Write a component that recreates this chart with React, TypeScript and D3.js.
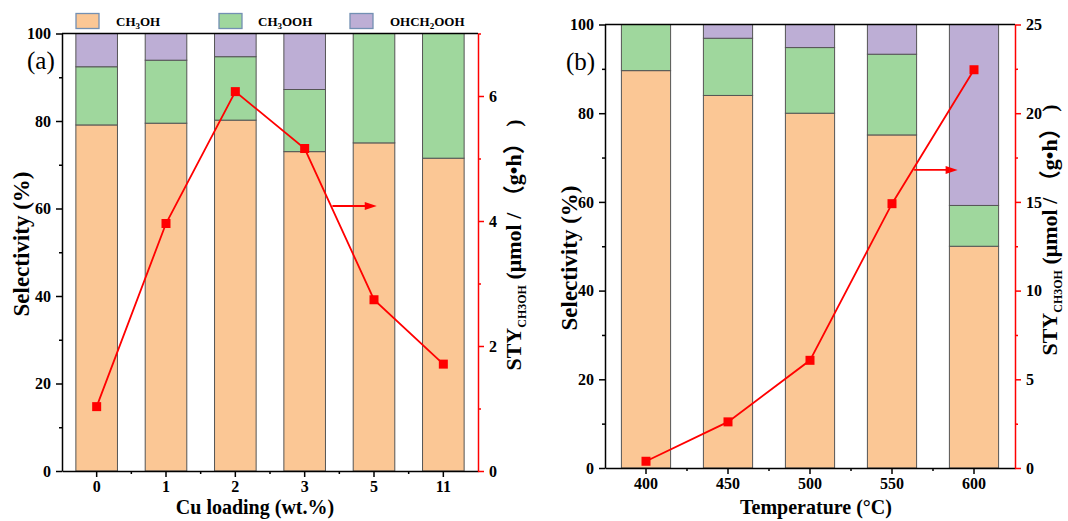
import React, { useEffect, useRef } from "react";
import * as d3 from "d3";

// series
const seriesKeys = ["CH3OH", "CH3OOH", "OHCH2OOH"];
const seriesColors = ["#fbc795", "#9fd79d", "#bdaed5"];

// (a) Cu loading
const loadingCats = ["0", "1", "2", "3", "5", "11"];
const loadingCH3OH = [79.1, 79.5, 80.2, 73.0, 75.0, 71.5];
const loadingCH3OOH = [13.3, 14.4, 14.5, 14.2, 25.0, 28.5];
const loadingOHCH2OOH = [7.6, 6.1, 5.3, 12.8, 0, 0];
const loadingSTY = [1.03, 3.96, 6.07, 5.16, 2.74, 1.71];

// (b) temperature
const tempCats = ["400", "450", "500", "550", "600"];
const tempCH3OH = [89.6, 84.0, 80.0, 75.1, 50.0];
const tempCH3OOH = [10.4, 12.9, 14.8, 18.2, 9.2];
const tempOHCH2OOH = [0, 3.1, 5.2, 6.7, 40.8];
const tempSTY = [0.38, 2.6, 6.07, 14.9, 22.45];

// ticks
const selTicks = [0, 20, 40, 60, 80, 100];
const selMinor = [10, 30, 50, 70, 90];
const styTicksA = [0, 2, 4, 6];
const styMinorA = [1, 3, 5, 7];
const styTicksB = [0, 5, 10, 15, 20, 25];
const styMinorB = [2.5, 7.5, 12.5, 17.5, 22.5];

const FONT = "'Liberation Serif', 'Times New Roman', 'Noto Sans CJK SC', serif";

const panels = [
  {
    cats: loadingCats, stacks: [loadingCH3OH, loadingCH3OOH, loadingOHCH2OOH], sty: loadingSTY,
    styMax: 7, styTicks: styTicksA, styMinor: styMinorA,
    left: 62, right: 478, top: 33.5, bottom: 471,
    label: "(a)", labelX: 27, labelY: 69,
    xTitle: "Cu loading (wt.%)", xTitleX: 255, xTitleY: 514,
    yTitleX: 29, yTitleY: 244,
    rTitleX: 521, rTitleY: 245,
    arrow: { cat: "3", from: 0.70, to: 1.34, value: 4.24 },
  },
  {
    cats: tempCats, stacks: [tempCH3OH, tempCH3OOH, tempOHCH2OOH], sty: tempSTY,
    styMax: 25, styTicks: styTicksB, styMinor: styMinorB,
    left: 605, right: 1015, top: 24.5, bottom: 468,
    label: "(b)", labelX: 566, labelY: 70,
    xTitle: "Temperature (\u00B0C)", xTitleX: 816, xTitleY: 514,
    yTitleX: 577, yTitleY: 258,
    rTitleX: 1057, rTitleY: 230,
    arrow: { cat: "550", from: 0.57, to: 1.10, value: 16.8 },
  },
];

function drawPanel(svg: any, p: any) {
  const g = svg.append("g");
  const x = d3.scaleBand().domain(p.cats).range([p.left, p.right]).paddingInner(0.4).paddingOuter(0.2);
  const y = d3.scaleLinear().domain([0, 100]).range([p.bottom, p.top]);
  const yR = d3.scaleLinear().domain([0, p.styMax]).range([p.bottom, p.top]);
  const bw = x.bandwidth();

  const rows = p.cats.map((c: string, i: number) => ({
    cat: c, CH3OH: p.stacks[0][i], CH3OOH: p.stacks[1][i], OHCH2OOH: p.stacks[2][i],
  }));
  const layers = d3.stack<any>().keys(seriesKeys)(rows);

  g.selectAll("g.layer")
    .data(layers)
    .join("g")
    .attr("fill", (d: any, i: number) => seriesColors[i])
    .selectAll("rect")
    .data((d: any) => d.filter((s: any) => s[1] - s[0] > 0))
    .join("rect")
    .attr("x", (d: any) => x(d.data.cat))
    .attr("width", bw)
    .attr("y", (d: any) => y(d[1]))
    .attr("height", (d: any) => y(d[0]) - y(d[1]))
    .attr("stroke", "#555")
    .attr("stroke-width", 1);

  const styleAxis = (sel: any, color: string) => {
    sel.selectAll("path,line").attr("stroke", color).attr("stroke-width", 1.5);
    sel.selectAll("text")
      .attr("fill", "#000")
      .style("font-family", FONT)
      .style("font-weight", "bold")
      .style("font-size", "16px");
  };
  const fmt = (d: any) => String(d);

  // left axis
  const la = g.append("g").attr("transform", `translate(${p.left},0)`)
    .call(d3.axisLeft(y).tickValues(selTicks).tickFormat(fmt).tickSize(6).tickSizeOuter(0).tickPadding(5));
  styleAxis(la, "#000");
  const lm = g.append("g").attr("transform", `translate(${p.left},0)`)
    .call(d3.axisLeft(y).tickValues(selMinor).tickSize(3).tickFormat(() => ""));
  lm.select(".domain").remove();
  styleAxis(lm, "#000");

  // top frame
  g.append("line")
    .attr("x1", p.left).attr("x2", p.right)
    .attr("y1", y(100)).attr("y2", y(100))
    .attr("stroke", "#000").attr("stroke-width", 1.5);

  // bottom axis
  const ba = g.append("g").attr("transform", `translate(0,${p.bottom})`)
    .call(d3.axisBottom(x).tickSize(6).tickSizeOuter(0).tickPadding(4));
  styleAxis(ba, "#000");
  const bounds = p.cats.slice(1).map((c: string) => (x(c) as number) - x.step() * x.paddingInner() / 2);
  g.append("g").selectAll("line").data(bounds).join("line")
    .attr("x1", (d: number) => d).attr("x2", (d: number) => d)
    .attr("y1", p.bottom).attr("y2", p.bottom + 3)
    .attr("stroke", "#000").attr("stroke-width", 1.5);

  // right axis
  const ra = g.append("g").attr("transform", `translate(${p.right},0)`)
    .call(d3.axisRight(yR).tickValues(p.styTicks).tickFormat(fmt).tickSize(6).tickSizeOuter(0).tickPadding(5));
  styleAxis(ra, "#ff0000");
  const rm = g.append("g").attr("transform", `translate(${p.right},0)`)
    .call(d3.axisRight(yR).tickValues(p.styMinor).tickSize(3).tickFormat(() => ""));
  rm.select(".domain").remove();
  styleAxis(rm, "#ff0000");

  // STY line
  const cx = (i: number) => (x(p.cats[i]) as number) + bw / 2;
  const line = d3.line<number>().x((d, i) => cx(i)).y((d) => yR(d));
  g.append("path").datum(p.sty).attr("d", line)
    .attr("fill", "none").attr("stroke", "#ff0000").attr("stroke-width", 1.8);
  g.append("g").selectAll("rect").data(p.sty).join("rect")
    .attr("x", (d: number, i: number) => cx(i) - 4.5)
    .attr("y", (d: number) => yR(d) - 4.5)
    .attr("width", 9).attr("height", 9)
    .attr("fill", "#ff0000");

  // arrow toward the right axis
  const a0 = x(p.arrow.cat) as number;
  const x1 = a0 + p.arrow.from * x.step();
  const x2 = a0 + p.arrow.to * x.step();
  const ay = yR(p.arrow.value);
  g.append("line").attr("x1", x1).attr("x2", x2 - 8).attr("y1", ay).attr("y2", ay)
    .attr("stroke", "#ff0000").attr("stroke-width", 1.8);
  g.append("path")
    .attr("d", `M${x2},${ay} L${x2 - 12},${ay - 4} L${x2 - 12},${ay + 4} Z`)
    .attr("fill", "#ff0000");

  // panel label
  g.append("text").attr("x", p.labelX).attr("y", p.labelY)
    .style("font-family", FONT).style("font-size", "25px")
    .text(p.label);

  // x title
  g.append("text").attr("x", p.xTitleX).attr("y", p.xTitleY)
    .attr("text-anchor", "middle")
    .style("font-family", FONT).style("font-weight", "bold").style("font-size", "20px")
    .text(p.xTitle);

  // left title
  g.append("text")
    .attr("transform", `translate(${p.yTitleX},${p.yTitleY}) rotate(-90)`)
    .attr("text-anchor", "middle")
    .style("font-family", FONT).style("font-weight", "bold").style("font-size", "23px")
    .text("Selectivity (%)");

  // right title
  const rt = g.append("text")
    .attr("transform", `translate(${p.rTitleX},${p.rTitleY}) rotate(-90)`)
    .attr("text-anchor", "middle")
    .style("font-family", FONT).style("font-weight", "bold").style("font-size", "22px");
  rt.append("tspan").text("STY");
  rt.append("tspan").attr("dy", 5).style("font-size", "12px").text("CH3OH");
  rt.append("tspan").attr("dy", -5).text(" (\u03BCmol / \uFF08g\u2022h\uFF09 )");
}

function drawLegend(svg: any) {
  const items = [
    { sq: 76, tx: 116, base: "CH", sub: "3", rest: "OH" },
    { sq: 219, tx: 258, base: "CH", sub: "3", rest: "OOH" },
    { sq: 350, tx: 390, base: "OHCH", sub: "2", rest: "OOH" },
  ];
  const lg = svg.append("g");
  items.forEach((it, i) => {
    lg.append("rect").attr("x", it.sq).attr("y", 13.5).attr("width", 23).attr("height", 15)
      .attr("fill", seriesColors[i]).attr("stroke", "#7390b3").attr("stroke-width", 1.3);
    const t = lg.append("text").attr("x", it.tx).attr("y", 26)
      .style("font-family", FONT).style("font-weight", "bold").style("font-size", "13px");
    t.append("tspan").text(it.base);
    t.append("tspan").attr("dy", 3).style("font-size", "9px").text(it.sub);
    t.append("tspan").attr("dy", -3).text(it.rest);
  });
}

export default function App() {
  const ref = useRef<SVGSVGElement | null>(null);

  useEffect(() => {
    document.body.style.margin = "0";
    const svg = d3.select(ref.current);
    svg.selectAll("*").remove();
    svg.append("rect").attr("width", 1068).attr("height", 521).attr("fill", "#fff");
    panels.forEach((p) => drawPanel(svg, p));
    drawLegend(svg);
  }, []);

  return (
    <svg ref={ref} width={1068} height={521} viewBox="0 0 1068 521"
      style={{ position: "absolute", left: 0, top: 0, display: "block" }} />
  );
}
